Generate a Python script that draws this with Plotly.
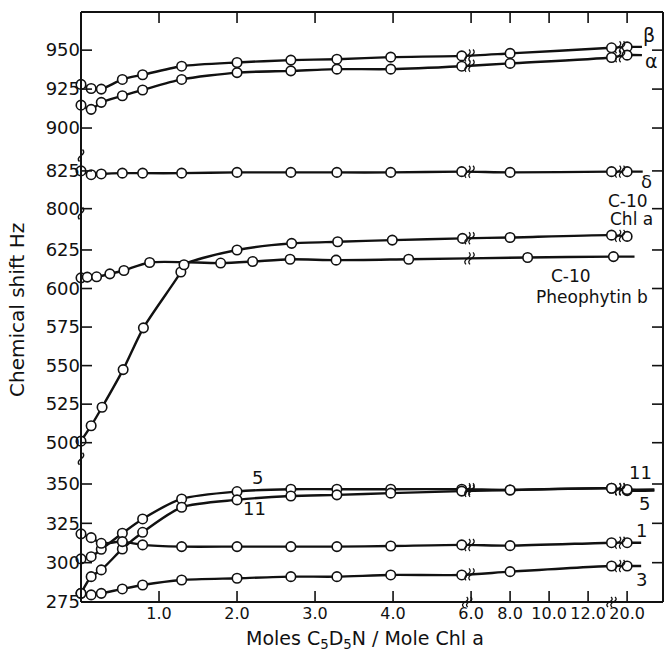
import numpy as np
import plotly.graph_objects as go

# ---------------- data ----------------
# moles C5D5N per mole Chl a
moles = [0, 0.13, 0.26, 0.53, 0.79, 1.29, 2.0, 2.69, 3.28, 3.97, 4.88, 8.0, 13.2, 20.0]

# chemical shifts (Hz)
shift_beta = [928.0, 925.4, 925.0, 931.2, 934.2, 939.7, 942.1, 943.6, 944.2, 945.5, 946.3, 947.9, 951.5, 952.1]
shift_alpha = [914.7, 912.0, 916.5, 920.7, 924.4, 931.2, 935.6, 936.7, 937.8, 937.8, 939.7, 941.5, 945.3, 946.8]
shift_delta = [825.0, 822.5, 823.0, 823.5, 823.5, 823.5, 824.0, 824.0, 824.0, 824.0, 824.5, 824.0, 824.5, 824.5]
shift_h5 = [302.4, 303.8, 308.5, 318.7, 327.8, 340.5, 345.2, 346.7, 346.7, 346.7, 346.7, 346.2, 347.3, 345.8]
shift_h11 = [280.5, 291.1, 295.4, 308.7, 319.3, 335.2, 339.9, 342.4, 343.1, 344.2, 345.5, 346.2, 347.3, 346.5]
shift_h1 = [318.3, 315.9, 312.3, 313.4, 311.3, 310.2, 310.2, 310.2, 310.2, 310.6, 311.3, 310.8, 312.7, 312.7]
shift_h3 = [280.5, 279.5, 280.5, 283.3, 285.8, 289.0, 290.1, 291.1, 291.1, 292.2, 292.2, 294.3, 297.9, 297.9]

moles_c10_chl = [0, 0.13, 0.27, 0.54, 0.8, 1.28, 1.32, 2.0, 2.7, 3.29, 3.99, 4.89, 8.0, 13.2, 20.0]
shift_c10_chl = [501.0, 511.0, 523.0, 547.4, 574.5, 610.7, 615.4, 625.0, 629.3, 630.3, 631.4, 632.5, 633.1, 634.6, 633.8]

moles_c10_pheo = [0, 0.08, 0.2, 0.37, 0.55, 0.88, 1.79, 2.2, 2.68, 3.27, 4.2, 8.9, 13.3]
shift_c10_pheo = [606.9, 607.4, 607.6, 609.5, 611.7, 616.9, 616.5, 617.5, 619.0, 618.4, 619.0, 620.1, 620.7]

x_tick_values = [1, 2, 3, 4, 6, 8, 10, 12, 20]
x_tick_labels = ["1.0", "2.0", "3.0", "4.0", "6.0", "8.0", "10.0", "12.0", "20.0"]
y_tick_values = [275, 300, 325, 350, 500, 525, 550, 575, 600, 625, 800, 825, 900, 925, 950]
y_tick_labels = [str(v) for v in y_tick_values]


# ---------------- broken-axis scales ----------------
def xpos(m):
    """Moles -> position on the broken x axis."""
    m = np.asarray(m, float)
    return np.where(m <= 5.5, m, np.where(m < 17, 5 + (m - 6) / 4, 7 + (m - 20) / 4))


def ypos(h):
    """Hz -> position on the broken y axis (one unit ~ 25 Hz)."""
    h = np.asarray(h, float)
    return np.select(
        [h < 450, h < 720, h < 870],
        [(h - 275) / 25,
         4.05 + (h - 500) / 25 * 0.98,
         10.0 + (h - 800) / 25 * 0.96],
        12.05 + (h - 900) / 25 * 0.99,
    )


X_RANGE = [0, 7.46]
Y_RANGE = [0, 15]
CURVE_BREAKS = [4.98, 6.91]
AXIS_X_BREAKS = [4.95, 6.8]
AXIS_Y_BREAKS = [3.64, 9.88, 11.35]

FONT = "DejaVu Sans"
INK = "#111111"
TICK_PX = 11

# plot area in pixels
L, R, T, B = 81, 663, 12, 602

series = [
    # (moles, shifts, tail length in axis units, break indices)
    (moles, shift_beta, 0.19, [0, 1]),
    (moles, shift_alpha, 0.19, [0, 1]),
    (moles, shift_delta, 0.20, [0, 1]),
    (moles_c10_chl, shift_c10_chl, 0.0, [0, 1]),
    (moles_c10_pheo, shift_c10_pheo, 0.27, [0]),
    (moles, shift_h5, 0.35, [0, 1]),
    (moles, shift_h11, 0.35, [0, 1]),
    (moles, shift_h1, 0.18, [0, 1]),
    (moles, shift_h3, 0.18, [0, 1]),
]

fig = go.Figure()

# curves
for mx, hy, tail, _ in series:
    xs = [float(v) for v in xpos(mx)]
    ys = [float(v) for v in ypos(hy)]
    if tail > 0:
        xs.append(xs[-1] + tail)
        ys.append(ys[-1])
    fig.add_trace(go.Scatter(
        x=xs, y=ys, mode="lines",
        line=dict(color=INK, width=2.4, shape="spline", smoothing=0.7),
        hoverinfo="skip", showlegend=False,
    ))

# open-circle data points on top
for mx, hy, _, _ in series:
    fig.add_trace(go.Scatter(
        x=[float(v) for v in xpos(mx)], y=[float(v) for v in ypos(hy)],
        mode="markers",
        marker=dict(symbol="circle", size=9.5, color="white",
                    line=dict(color=INK, width=1.6)),
        showlegend=False, cliponaxis=False,
    ))


def squiggle(dx, h):
    return (f"M{dx - 1.5},{-h} Q{dx - 4.5},{-h / 2} {dx},0 "
            f"Q{dx + 4.5},{h / 2} {dx + 1.5},{h}")


def bar(**kw):
    """Solid filled bar used for frame edges and ticks."""
    d = dict(type="rect", fillcolor=INK, line=dict(width=0), layer="above")
    d.update(kw)
    return d


shapes = []

# frame of the plot area as solid bars
shapes.append(bar(xref="paper", yref="paper", xsizemode="pixel", xanchor=0,
                  x0=-1, x1=1, y0=0, y1=1))
shapes.append(bar(xref="paper", yref="paper", xsizemode="pixel", xanchor=1,
                  x0=-1, x1=1, y0=0, y1=1))
shapes.append(bar(xref="paper", yref="paper", ysizemode="pixel", yanchor=0,
                  x0=0, x1=1, y0=-1, y1=1))
shapes.append(bar(xref="paper", yref="paper", ysizemode="pixel", yanchor=1,
                  x0=0, x1=1, y0=-1, y1=1))

# inward ticks on all four sides
for tv in xpos(x_tick_values):
    tv = float(tv)
    for anchor, (a, b) in ((0, (0, TICK_PX)), (1, (-TICK_PX, 0))):
        shapes.append(bar(xref="x", yref="paper", xsizemode="pixel", ysizemode="pixel",
                          xanchor=tv, yanchor=anchor, x0=-0.8, x1=0.8, y0=a, y1=b))
for tv in ypos(y_tick_values):
    tv = float(tv)
    for anchor, (a, b) in ((0, (0, TICK_PX)), (1, (-TICK_PX, 0))):
        shapes.append(bar(xref="paper", yref="y", xsizemode="pixel", ysizemode="pixel",
                          xanchor=anchor, yanchor=tv, x0=a, x1=b, y0=-0.8, y1=0.8))

# break marks on the curves
for mx, hy, _, idx in series:
    xs = xpos(mx)
    ys = ypos(hy)
    for i in idx:
        bx = CURVE_BREAKS[i]
        if bx > xs[-1]:
            continue
        by = float(np.interp(bx, xs, ys))
        shapes.append(dict(
            type="path", xref="x", yref="y", xsizemode="pixel", ysizemode="pixel",
            xanchor=bx, yanchor=by,
            path=squiggle(-2, 6) + " " + squiggle(2, 6),
            line=dict(color=INK, width=1.3), fillcolor="rgba(0,0,0,0)", layer="above",
        ))

# break marks on the x axis
for bx in AXIS_X_BREAKS:
    shapes.append(dict(
        type="path", xref="x", yref="paper", xsizemode="pixel", ysizemode="pixel",
        xanchor=bx, yanchor=0,
        path=squiggle(-2, 5) + " " + squiggle(2, 5),
        line=dict(color=INK, width=1.3), fillcolor="rgba(0,0,0,0)", layer="above",
    ))

# break marks on the y axis
for by in AXIS_Y_BREAKS:
    shapes.append(dict(
        type="path", xref="paper", yref="y", xsizemode="pixel", ysizemode="pixel",
        xanchor=0, yanchor=by,
        path=squiggle(0, 6),
        line=dict(color=INK, width=1.5), fillcolor="rgba(0,0,0,0)", layer="above",
    ))


# ---------------- labels ----------------
def paper(px, py):
    return (px - L) / (R - L), (B - py) / (B - T)


labels = [
    ("β", 649, 35, 19), ("α", 651, 61, 19), ("δ", 646, 181, 18),
    ("C-10", 628, 201, 17), ("Chl a", 631, 219, 17),
    ("C-10", 571, 276, 17), ("Pheophytin b", 592, 297, 17),
    ("5", 257, 477, 18), ("11", 254, 508, 18),
    ("11", 640, 472, 18), ("5", 644, 503, 18),
    ("1", 641, 530, 18), ("3", 641, 579, 18),
]
annotations = []
for text, px, py, size in labels:
    ax_, ay_ = paper(px, py)
    annotations.append(dict(
        text=text, x=ax_, y=ay_, xref="paper", yref="paper",
        xanchor="center", yanchor="middle", showarrow=False,
        font=dict(family=FONT, size=size, color=INK),
    ))

tx, ty = paper(365, 639)
annotations.append(dict(
    text="Moles C<sub>5</sub>D<sub>5</sub>N / Mole Chl a", x=tx, y=ty,
    xref="paper", yref="paper", xanchor="center", yanchor="middle", showarrow=False,
    font=dict(family=FONT, size=19, color=INK),
))
tx, ty = paper(17, 310)
annotations.append(dict(
    text="Chemical shift Hz", x=tx, y=ty, textangle=-90,
    xref="paper", yref="paper", xanchor="center", yanchor="middle", showarrow=False,
    font=dict(family=FONT, size=20, color=INK),
))

axis_common = dict(showgrid=False, zeroline=False, showline=False, ticks="")

fig.update_layout(
    width=664, height=652,
    margin=dict(l=L, r=664 - R, t=T, b=652 - B),
    paper_bgcolor="white", plot_bgcolor="white",
    xaxis=dict(range=X_RANGE, tickmode="array",
               tickvals=[float(v) for v in xpos(x_tick_values)], ticktext=x_tick_labels,
               tickangle=0, tickfont=dict(family=FONT, size=16, color=INK),
               **axis_common),
    yaxis=dict(range=Y_RANGE, tickmode="array",
               tickvals=[float(v) for v in ypos(y_tick_values)], ticktext=y_tick_labels,
               tickfont=dict(family=FONT, size=18, color=INK),
               **axis_common),
    shapes=shapes,
    annotations=annotations,
    showlegend=False,
)

fig.write_html("out.html")
